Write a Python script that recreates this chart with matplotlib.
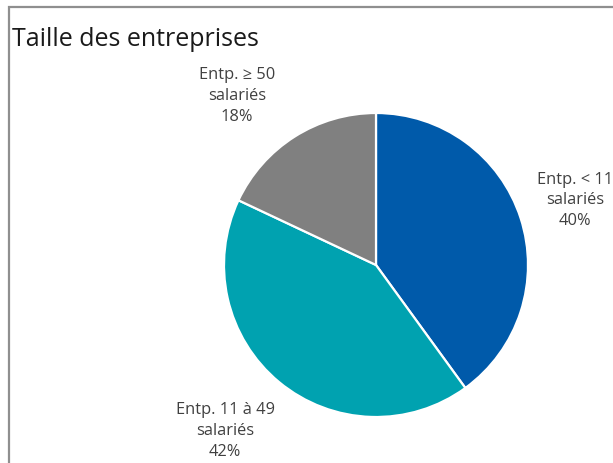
import numpy as np
import matplotlib.pyplot as plt
from matplotlib.patches import Rectangle

plt.rcParams['font.family'] = ['Open Sans', 'DejaVu Sans']

#_Data__________________________________________________________________________
categories = ['Entp. < 11\nsalariés', 'Entp. 11 à 49\nsalariés',
              'Entp. ≥ 50\nsalariés']
shares = [40, 42, 18]
colors = ['#005AAA', '#00A2B0', '#808080']

# Label placement around the pie: (angle nudge in degrees, radius)
label_layout = [(0.0, 1.375), (-2.7, 1.475), (7.0, 1.44)]

#_Figure________________________________________________________________________
W, H = 613, 463
fig = plt.figure(figsize=(W / 100, H / 100), dpi=100)

# Chart area frame, running off the right and bottom edges
fig.patches.append(Rectangle((9 / W, -0.1), 1.1, 1 - 7 / H + 0.1,
                             transform=fig.transFigure, fill=False,
                             edgecolor='#8f8f8f', linewidth=1.6))

fig.text(12 / W, 1 - 40 / H, 'Taille des entreprises', fontsize=18,
         ha='left', va='center', color='#1a1a1a')

# Pie: centre (376, 265) px, radius 152 px
cx, cy, r = 376, 265, 152
ax = fig.add_axes([(cx - r) / W, (H - cy - r) / H, 2 * r / W, 2 * r / H])
wedges, _ = ax.pie(shares, colors=colors, startangle=90, counterclock=False,
                   wedgeprops=dict(edgecolor='white', linewidth=1.6))
ax.set_xlim(-1, 1)
ax.set_ylim(-1, 1)
ax.set_aspect('equal')
ax.axis('off')

for w, cat, val, (nudge, dist) in zip(wedges, categories, shares, label_layout):
    mid = np.deg2rad((w.theta1 + w.theta2) / 2 + nudge)
    ax.text(dist * np.cos(mid), dist * np.sin(mid), f'{cat}\n{val}%',
            ha='center', va='center', fontsize=11.8, color='#404040',
            linespacing=1.4, clip_on=False)

fig.savefig('out.png', dpi=100)
